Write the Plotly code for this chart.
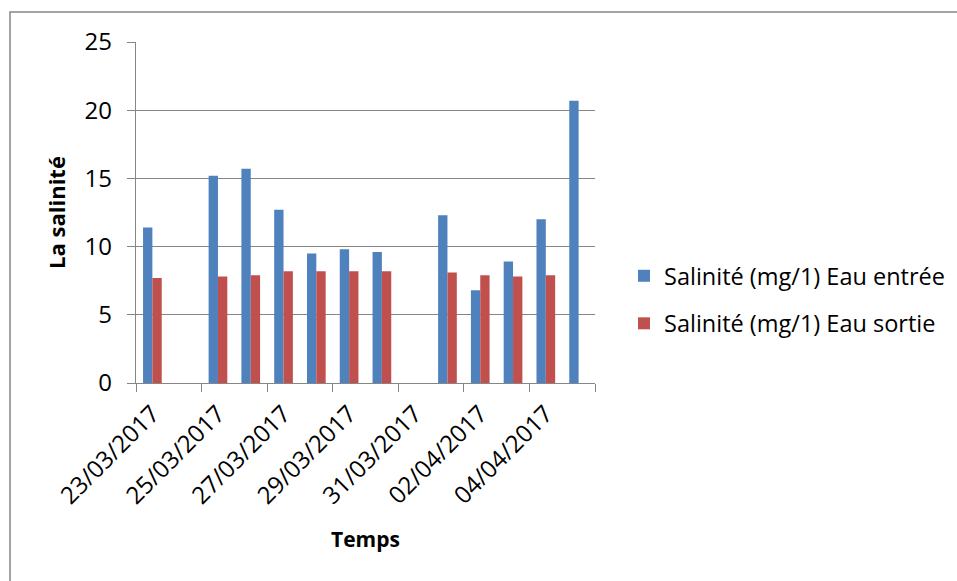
import plotly.graph_objects as go

# Daily salinity measurements, inlet vs outlet water
dates = [
    "23/03/2017", "24/03/2017", "25/03/2017", "26/03/2017", "27/03/2017",
    "28/03/2017", "29/03/2017", "30/03/2017", "31/03/2017", "01/04/2017",
    "02/04/2017", "03/04/2017", "04/04/2017", "05/04/2017",
]
salinite_entree = [11.4, None, 15.2, 15.7, 12.7, 9.5, 9.8, 9.6, None, 12.3, 6.8, 8.9, 12.0, 20.7]
salinite_sortie = [7.7, None, 7.8, 7.9, 8.2, 8.2, 8.2, 8.2, None, 8.1, 7.9, 7.8, 7.9, None]

series_names = ["Salinité (mg/1) Eau entrée", "Salinité (mg/1) Eau sortie"]
y_ticks = [0, 5, 10, 15, 20, 25]

FONT = "Open Sans"
GRID = "#868686"

fig = go.Figure()
fig.add_trace(go.Bar(
    x=dates, y=salinite_entree, name=series_names[0],
    marker=dict(color="#4F81BD", line=dict(width=0)),
    legendgroup="a",
))
fig.add_trace(go.Bar(
    x=dates, y=salinite_sortie, name=series_names[1],
    marker=dict(color="#C0504D", line=dict(width=0)),
    legendgroup="b",
))

W, H = 957, 581
L, R, T, B = 136, 595, 42, 383

def px_x(p):
    return (p - L) / (R - L)

def px_y(p):
    return (B - p) / (B - T)

fig.update_layout(
    width=W, height=H,
    margin=dict(l=L, r=W - R, t=T, b=H - B, autoexpand=False),
    paper_bgcolor="white", plot_bgcolor="white",
    font=dict(family=FONT, size=24, color="black"),
    barmode="group", bargap=0.43, bargroupgap=0,
    showlegend=True,
    legend=dict(
        x=px_x(624), y=px_y(300), xanchor="left", yanchor="middle",
        font=dict(size=23.5), tracegroupgap=14, traceorder="grouped",
        bgcolor="rgba(0,0,0,0)",
    ),
    xaxis=dict(
        type="category", tickmode="linear", tick0=0, dtick=2,
        tickson="boundaries", ticks="outside", ticklen=8, tickcolor=GRID,
        tickangle=-45, showline=True, linecolor=GRID, linewidth=1.3,
        showgrid=False, tickfont=dict(size=24), ticklabelstandoff=6,
        automargin=False,
        title=dict(text="<b>Temps</b>", font=dict(size=21), standoff=22),
    ),
    yaxis=dict(
        range=[0, 25], tickvals=y_ticks, ticks="outside", ticklen=8,
        tickcolor=GRID, showline=True, linecolor=GRID, linewidth=1.3,
        showgrid=True, gridcolor=GRID, gridwidth=1.3, zeroline=False,
        tickfont=dict(size=24), ticklabelstandoff=10, automargin=False,
        title=dict(text="<b>La salinité</b>", font=dict(size=22), standoff=12),
    ),
    shapes=[dict(
        type="rect", xref="paper", yref="paper",
        x0=px_x(10), x1=px_x(1100), y0=px_y(700), y1=px_y(12),
        line=dict(color=GRID, width=1.5), fillcolor="rgba(0,0,0,0)", layer="below",
    )],
)

fig.write_html("out.html")
